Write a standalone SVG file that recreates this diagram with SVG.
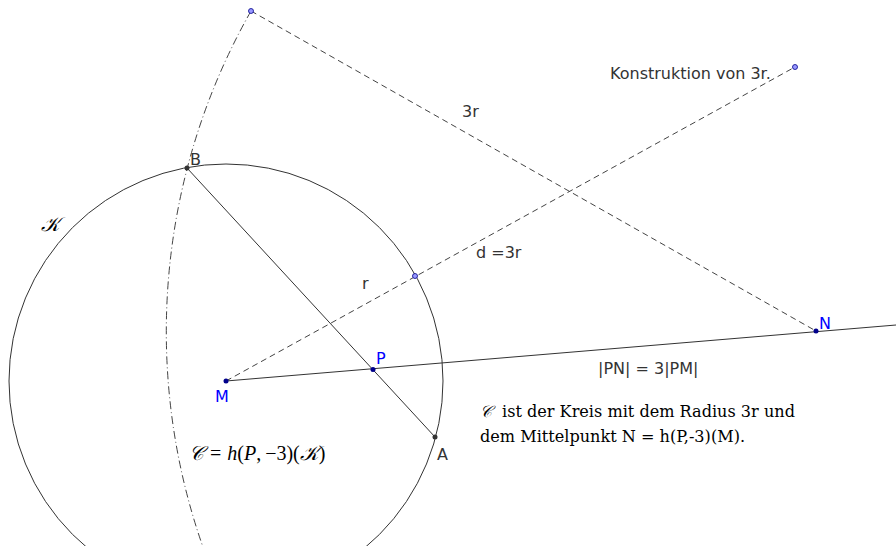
<svg xmlns="http://www.w3.org/2000/svg" width="896" height="546" viewBox="0 0 896 546">
<style>
.ln{fill:none;stroke:#333;stroke-width:1}
.dash{fill:none;stroke:#444;stroke-width:1;stroke-dasharray:6,4}
.dd{fill:none;stroke:#444;stroke-width:1;stroke-dasharray:8,3,1,3}
.pt{fill:#333}
.bp{fill:#00008b}
.lp{fill:#9999ff;stroke:#00008b;stroke-width:0.8}
.lab{font-family:"DejaVu Sans",sans-serif;font-size:16px;fill:#333}
.blab{font-family:"DejaVu Sans",sans-serif;font-size:16px;fill:#0000ff}
.ser{font-family:"DejaVu Serif",serif;font-size:16.1px;fill:#000}
.math{font-family:"Liberation Serif","DejaVu Serif",serif;font-size:20px;fill:#000}
</style>
<rect width="896" height="546" fill="#fff"/>
<g id="connectors">
<circle class="ln" cx="226" cy="381" r="217" stroke="#000"/>
<path class="dd" d="M251,11 A650,650 0 0 0 202.6,546"/>
<line class="ln" x1="187" y1="168" x2="435" y2="437"/>
<line class="ln" x1="226" y1="381" x2="896" y2="325"/>
<line class="dash" x1="226" y1="381" x2="795" y2="67"/>
<line class="dash" x1="251" y1="11" x2="816" y2="331"/>
</g>
<g id="label-K"><text class="math" x="41" y="231" font-style="italic">𝒦</text></g>
<g id="label-construction"><text class="lab" x="610" y="79" fill="#000">Konstruktion von 3r.</text></g>
<g id="label-3r"><text class="lab" x="462" y="117" fill="#000">3r</text></g>
<g id="label-d"><text class="lab" x="476" y="258" fill="#000">d =3r</text></g>
<g id="label-r"><text class="lab" x="362" y="289" fill="#000">r</text></g>
<g id="label-ratio"><text class="lab" x="598" y="374" fill="#000">|PN| = 3|PM|</text></g>
<g id="label-text">
<text class="ser" x="480" y="417"><tspan font-family="Liberation Serif, serif" font-style="italic">𝒞</tspan><tspan x="502">ist der Kreis mit dem Radius 3r und</tspan></text>
<text class="ser" x="480" y="442">dem Mittelpunkt N = h(P,-3)(M).</text>
</g>
<g id="label-formula"><text class="math" x="189" y="460"><tspan font-style="italic">𝒞</tspan><tspan dx="6">=</tspan><tspan dx="6" font-style="italic">h</tspan>(<tspan font-style="italic">P</tspan>,<tspan dx="4">−3)(</tspan><tspan font-style="italic">𝒦</tspan>)</text></g>
<g id="node-B"><circle class="pt" cx="187" cy="168" r="2.5"/><text class="lab" x="190" y="165">B</text></g>
<g id="node-A"><circle class="pt" cx="435" cy="437" r="2.5"/><text class="lab" x="437" y="460">A</text></g>
<g id="node-P"><circle class="bp" cx="373" cy="369.5" r="2.5"/><text class="blab" x="376" y="364">P</text></g>
<g id="node-M"><circle class="bp" cx="226" cy="381" r="2.5"/><text class="blab" x="215" y="402">M</text></g>
<g id="node-N"><circle class="bp" cx="816" cy="331" r="2.5"/><text class="blab" x="819" y="329">N</text></g>
<g id="node-top"><circle class="lp" cx="251" cy="11" r="2.5"/></g>
<g id="node-end"><circle class="lp" cx="795" cy="67" r="2.5"/></g>
<g id="node-r"><circle class="lp" cx="415" cy="276" r="2.5"/></g>
</svg>
